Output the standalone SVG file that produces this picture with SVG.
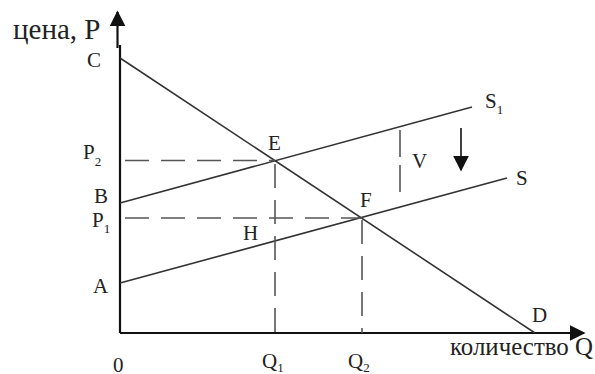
<svg xmlns="http://www.w3.org/2000/svg" width="595" height="374" viewBox="0 0 595 374">
<style>
text{font-family:"Liberation Serif","DejaVu Serif",serif;fill:#222;}
.lbl{font-size:21px;}
.sub{font-size:13px;}
.ax{stroke:#111;stroke-width:2.2;fill:none;}
.ln{stroke:#333;stroke-width:1.6;fill:none;}
.ds{stroke:#555;stroke-width:1.6;fill:none;stroke-dasharray:24 12;}
</style>
<defs>
<marker id="ahBig" viewBox="0 0 10 10" refX="9" refY="5" markerWidth="16" markerHeight="16" markerUnits="userSpaceOnUse" orient="auto">
<path d="M0,0 L10,5 L0,10 z" fill="#111"/>
</marker>
</defs>
<rect width="595" height="374" fill="#fff"/>
<g id="axes">
<line class="ax" x1="120" y1="333" x2="120" y2="45"/>
<line class="ax" x1="117.5" y1="48" x2="117.5" y2="12" marker-end="url(#ahBig)"/>
<line class="ax" x1="120" y1="333" x2="584" y2="333" marker-end="url(#ahBig)"/>
</g>
<g id="connectors">
<line id="demand" class="ln" x1="120" y1="58" x2="535" y2="333"/>
<line id="supply1" class="ln" x1="120" y1="203" x2="472" y2="107"/>
<line id="supply" class="ln" x1="120" y1="283" x2="507" y2="178"/>
<line class="ds" x1="125" y1="160.5" x2="275" y2="160.5"/>
<line class="ds" x1="125" y1="218" x2="362" y2="218"/>
<line class="ds" x1="275" y1="162" x2="275" y2="333" stroke-dashoffset="-2"/>
<line class="ds" x1="362" y1="220" x2="362" y2="333"/>
<line class="ds" x1="400" y1="130" x2="400" y2="193" style="stroke-dasharray:27 8"/>
<line class="ln" x1="461" y1="128" x2="461" y2="170" marker-end="url(#ahBig)" style="stroke:#111"/>
</g>
<g id="labels">
<text x="13" y="39" font-size="29">цена, P</text>
<text class="lbl" x="87" y="67">C</text>
<text class="lbl" x="83" y="159">P<tspan class="sub" dy="7">2</tspan></text>
<text class="lbl" x="94" y="203">B</text>
<text class="lbl" x="92" y="227">P<tspan class="sub" dy="6">1</tspan></text>
<text class="lbl" x="93" y="293">A</text>
<text class="lbl" x="268" y="150">E</text>
<text class="lbl" x="360" y="207">F</text>
<text class="lbl" x="243" y="240">H</text>
<text class="lbl" x="412" y="168">V</text>
<text class="lbl" x="485" y="108">S<tspan class="sub" dy="6">1</tspan></text>
<text class="lbl" x="516" y="185">S</text>
<text class="lbl" x="532" y="322">D</text>
<text class="lbl" x="113" y="372">0</text>
<text class="lbl" x="262" y="368">Q<tspan class="sub" dy="4">1</tspan></text>
<text class="lbl" x="348" y="368">Q<tspan class="sub" dy="4">2</tspan></text>
<text x="450" y="355" font-size="25" textLength="143" lengthAdjust="spacingAndGlyphs">количество Q</text>
</g>
</svg>
